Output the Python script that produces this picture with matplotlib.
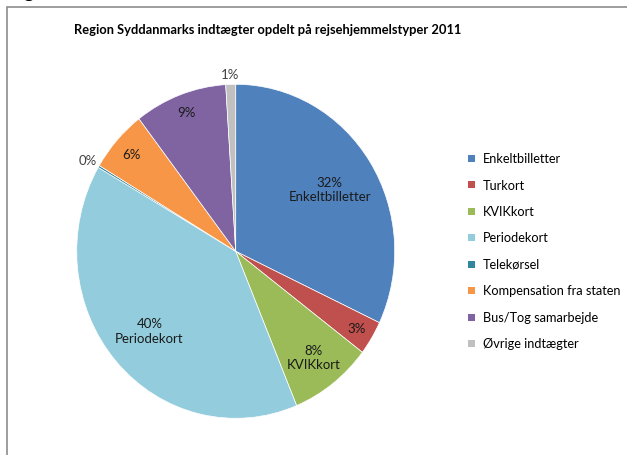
import matplotlib
matplotlib.use("Agg")
import matplotlib.pyplot as plt
from matplotlib.patches import Rectangle
import numpy as np

plt.rcParams['font.family'] = ['Lato', 'DejaVu Sans']

title = "Region Syddanmarks indtægter opdelt på rejsehjemmelstyper 2011"
categories = ["Enkeltbilletter", "Turkort", "KVIKkort", "Periodekort",
              "Telekørsel", "Kompensation fra staten", "Bus/Tog samarbejde",
              "Øvrige indtægter"]
values = [32.0, 3.3, 8.4, 39.6, 0.2, 6.0, 9.4, 1.0]
colors = ["#4F81BD", "#C0504D", "#9BBB59", "#93CDDD", "#31859C",
          "#F79646", "#8064A2", "#C0C0C0"]
# label style: radial distance factor, include category name, text color
label_r = [0.70, 0.89, 0.80, 0.72, 1.08, 0.88, 0.89, 1.06]
label_name = [True, False, True, True, False, False, False, False]
label_col = ["#1a1a1a"] * 4 + ["#404040", "#1a1a1a", "#1a1a1a", "#404040"]

W, H = 627, 456
fig = plt.figure(figsize=(W / 100, H / 100), dpi=100)

# frame of the chart area (extends off image right/bottom)
fig.patches.append(Rectangle((6.5 / W, -0.1), 1.2, (H - 7.5) / H + 0.1,
                             transform=fig.transFigure, fill=False,
                             edgecolor="#8c8c8c", linewidth=1.2))
# cut-off caption letter at top-left
fig.text(24 / W, (H + 1.5) / H, "g", fontsize=14, fontweight="bold",
         va="baseline", ha="left", color="black")

cx, cy, rx, ry = 235.7, 252.3, 159, 167
ax = fig.add_axes([(cx - rx) / W, (H - cy - ry) / H, 2 * rx / W, 2 * ry / H])
wedges, _ = ax.pie(values, colors=colors, startangle=90, counterclock=False,
                   radius=1, wedgeprops=dict(edgecolor="white", linewidth=0.5))
ax.set_aspect("auto")
ax.set_xlim(-1, 1)
ax.set_ylim(-1, 1)
ax.axis("off")

total = sum(values)
for w, v, r, nm, cat, col in zip(wedges, values, label_r, label_name,
                                 categories, label_col):
    mid = np.deg2rad((w.theta1 + w.theta2) / 2)
    x, y = r * np.cos(mid), r * np.sin(mid)
    txt = f"{round(v / total * 100)}%"
    if nm:
        txt += "\n" + cat
    ax.text(x, y, txt, ha="center", va="center", fontsize=9.5, color=col,
            linespacing=1.25)

fig.text(268 / W, 1 - 30 / H, title, ha="center", va="center",
         fontsize=9.3, fontweight="bold", color="black")

# legend
leg_y0, leg_dy = 159, 26.5
for i, (cat, c) in enumerate(zip(categories, colors)):
    y = leg_y0 + i * leg_dy
    fig.patches.append(Rectangle((468 / W, 1 - (y + 3.5) / H), 7 / W, 7 / H,
                                 transform=fig.transFigure, facecolor=c,
                                 edgecolor="none"))
    fig.text(483 / W, 1 - y / H, cat, ha="left", va="center", fontsize=9.2,
             color="black")

fig.savefig("out.png", dpi=100, facecolor="white")
